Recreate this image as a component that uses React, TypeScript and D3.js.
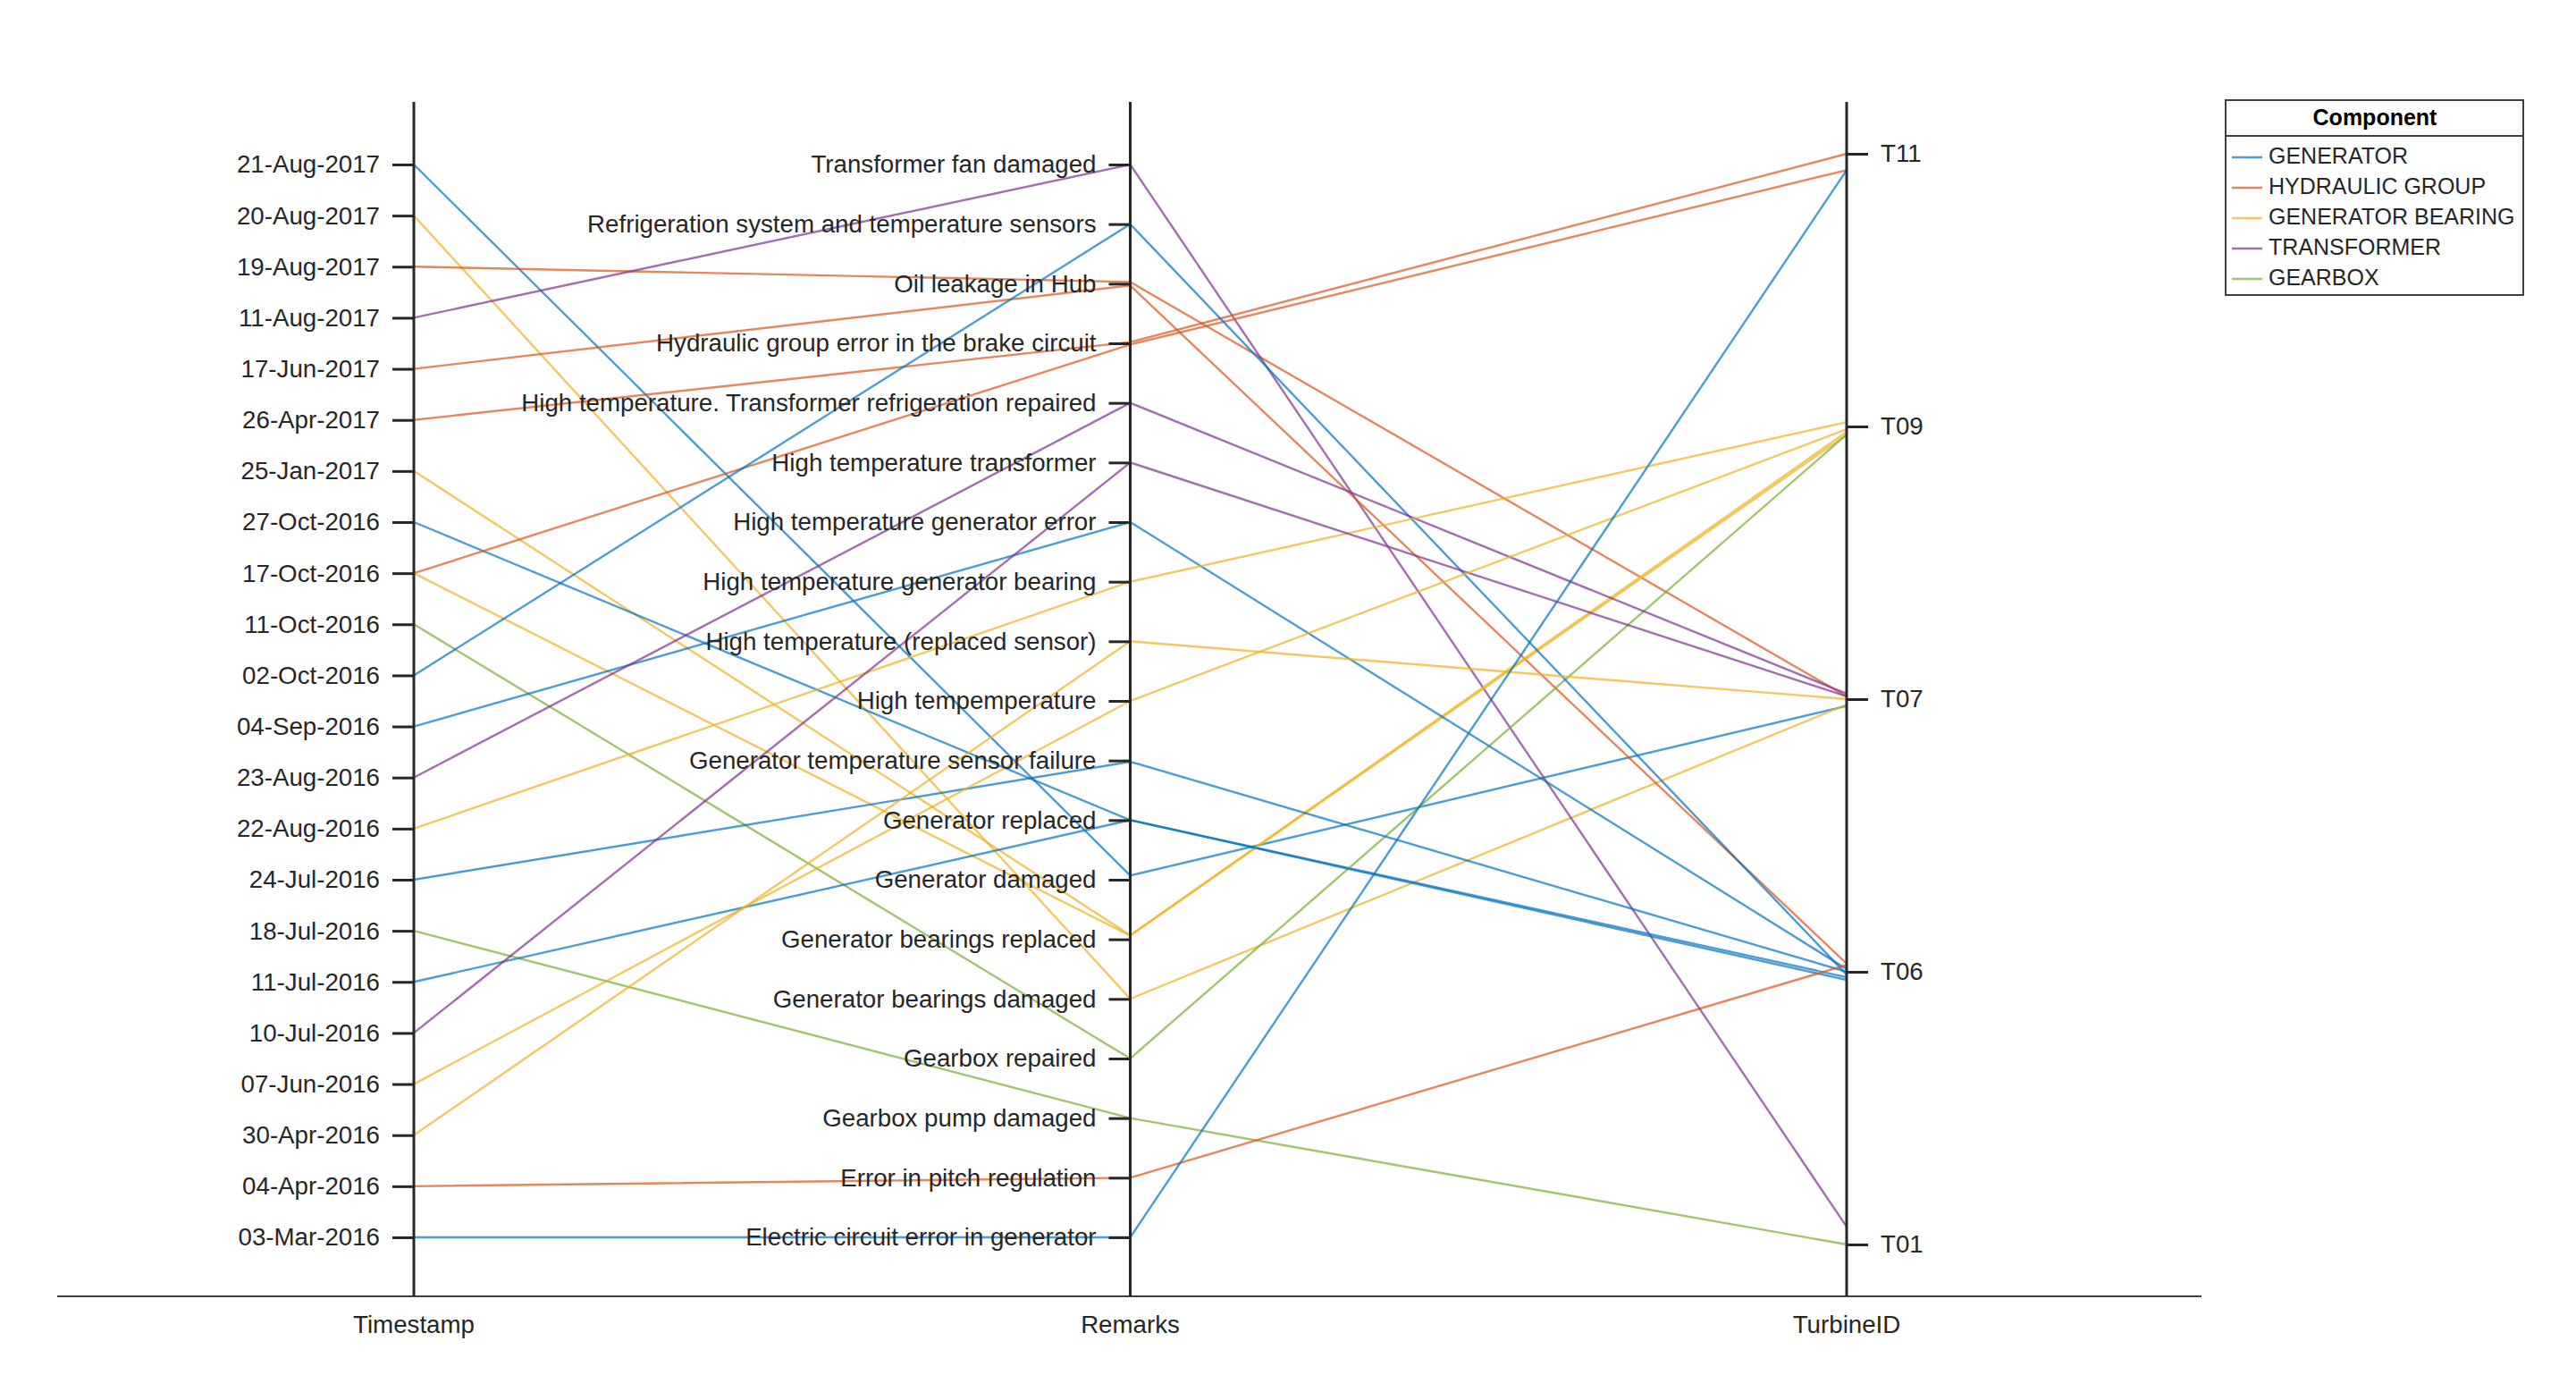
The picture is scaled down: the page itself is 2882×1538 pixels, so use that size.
import { useEffect, useRef } from 'react';
import * as d3 from 'd3';

// tick labels, top to bottom
const timestampTicks = [
  '21-Aug-2017', '20-Aug-2017', '19-Aug-2017', '11-Aug-2017', '17-Jun-2017',
  '26-Apr-2017', '25-Jan-2017', '27-Oct-2016', '17-Oct-2016', '11-Oct-2016',
  '02-Oct-2016', '04-Sep-2016', '23-Aug-2016', '22-Aug-2016', '24-Jul-2016',
  '18-Jul-2016', '11-Jul-2016', '10-Jul-2016', '07-Jun-2016', '30-Apr-2016',
  '04-Apr-2016', '03-Mar-2016',
];

const remarkTicks = [
  'Transformer fan damaged',
  'Refrigeration system and temperature sensors',
  'Oil leakage in Hub',
  'Hydraulic group error in the brake circuit',
  'High temperature. Transformer refrigeration repaired',
  'High temperature transformer',
  'High temperature generator error',
  'High temperature generator bearing',
  'High temperature (replaced sensor)',
  'High tempemperature',
  'Generator temperature sensor failure',
  'Generator replaced',
  'Generator damaged',
  'Generator bearings replaced',
  'Generator bearings damaged',
  'Gearbox repaired',
  'Gearbox pump damaged',
  'Error in pitch regulation',
  'Electric circuit error in generator',
];

const turbineTicks = ['T11', 'T09', 'T07', 'T06', 'T01'];

const components = ['GENERATOR', 'HYDRAULIC GROUP', 'GENERATOR BEARING', 'TRANSFORMER', 'GEARBOX'];
const componentColors = ['#0072BD', '#D95319', '#EDB120', '#7E2F8E', '#77AC30'];

const dimensions = ['Timestamp', 'Remarks', 'TurbineID'];

// one entry per record
const rowTimestamp = [
  '21-Aug-2017', '20-Aug-2017', '19-Aug-2017', '11-Aug-2017', '17-Jun-2017',
  '26-Apr-2017', '25-Jan-2017', '27-Oct-2016', '17-Oct-2016', '17-Oct-2016',
  '11-Oct-2016', '02-Oct-2016', '04-Sep-2016', '23-Aug-2016', '22-Aug-2016',
  '24-Jul-2016', '18-Jul-2016', '11-Jul-2016', '10-Jul-2016', '07-Jun-2016',
  '30-Apr-2016', '04-Apr-2016', '03-Mar-2016',
];
const rowRemark = [
  'Generator damaged', 'Generator bearings damaged', 'Oil leakage in Hub',
  'Transformer fan damaged', 'Oil leakage in Hub',
  'Hydraulic group error in the brake circuit', 'Generator bearings replaced',
  'Generator replaced', 'Hydraulic group error in the brake circuit',
  'Generator bearings replaced', 'Gearbox repaired',
  'Refrigeration system and temperature sensors', 'High temperature generator error',
  'High temperature. Transformer refrigeration repaired', 'High temperature generator bearing',
  'Generator temperature sensor failure', 'Gearbox pump damaged', 'Generator replaced',
  'High temperature transformer', 'High tempemperature', 'High temperature (replaced sensor)',
  'Error in pitch regulation', 'Electric circuit error in generator',
];
const rowTurbine = [
  'T07', 'T07', 'T07', 'T01', 'T06', 'T11', 'T09', 'T06', 'T11', 'T09', 'T09', 'T06',
  'T06', 'T07', 'T09', 'T06', 'T01', 'T06', 'T07', 'T09', 'T07', 'T06', 'T11',
];
const rowComponent = [
  'GENERATOR', 'GENERATOR BEARING', 'HYDRAULIC GROUP', 'TRANSFORMER', 'HYDRAULIC GROUP',
  'HYDRAULIC GROUP', 'GENERATOR BEARING', 'GENERATOR', 'HYDRAULIC GROUP', 'GENERATOR BEARING',
  'GEARBOX', 'GENERATOR', 'GENERATOR', 'TRANSFORMER', 'GENERATOR BEARING', 'GENERATOR',
  'GEARBOX', 'GENERATOR', 'TRANSFORMER', 'GENERATOR BEARING', 'GENERATOR BEARING',
  'HYDRAULIC GROUP', 'GENERATOR',
];
// categorical jitter (fraction of a category step, + = downward)
const remarkJitter = [
  -0.07, 0, -0.03, 0, 0.03, -0.02, -0.07, 0, 0.02, -0.06, 0, 0,
  0, 0, 0, 0.02, 0, 0, 0, 0, 0, 0, 0,
];
const turbineJitter = [
  0.025, 0.02, -0.01, -0.065, -0.03, 0, 0.02, 0.02, 0.06, 0.03, 0.03, 0.01,
  -0.01, -0.02, -0.016, 0, 0, 0.03, -0.01, 0.01, 0, -0.025, 0.06,
];

const W = 2882;
const H = 1538;
const FONT = '"Liberation Sans", Arial, Helvetica, sans-serif';
const TEXT = '#262626';

const App = () => {
  const svgRef = useRef(null);

  useEffect(() => {
    const svg = d3.select(svgRef.current);
    svg.selectAll('*').remove();

    const axisTop = 114;
    const axisBottom = 1450;

    const x = d3.scalePoint().domain(dimensions).range([463, 2066]);
    const yTime = d3.scalePoint().domain(timestampTicks).range([184, 1384]);
    const yRemark = d3.scalePoint().domain(remarkTicks).range([184, 1384]);
    const yTurbine = d3.scalePoint().domain(turbineTicks).range([172, 1392]);
    const color = d3.scaleOrdinal<string, string>().domain(components).range(componentColors);

    const rows = rowTimestamp.map((t, i) => ({
      t,
      r: rowRemark[i],
      id: rowTurbine[i],
      c: rowComponent[i],
      rj: remarkJitter[i],
      tj: turbineJitter[i],
    }));

    // baseline
    svg
      .append('line')
      .attr('x1', 64)
      .attr('x2', 2463)
      .attr('y1', axisBottom)
      .attr('y2', axisBottom)
      .attr('stroke', '#404040')
      .attr('stroke-width', 2);

    // polylines
    const line = d3.line<[number, number]>();
    svg
      .append('g')
      .selectAll('path')
      .data(rows)
      .enter()
      .append('path')
      .attr('d', (d) =>
        line([
          [x('Timestamp')!, yTime(d.t)!],
          [x('Remarks')!, yRemark(d.r)! + d.rj * yRemark.step()],
          [x('TurbineID')!, yTurbine(d.id)! + d.tj * yTurbine.step()],
        ])
      )
      .attr('fill', 'none')
      .attr('stroke', (d) => color(d.c))
      .attr('stroke-opacity', 0.7)
      .attr('stroke-width', 2.4);

    // vertical axes
    const axes: [string, d3.Axis<string>][] = [
      ['Timestamp', d3.axisLeft(yTime)],
      ['Remarks', d3.axisLeft(yRemark)],
      ['TurbineID', d3.axisRight(yTurbine)],
    ];
    axes.forEach(([name, ax]) => {
      const g = svg.append('g').attr('transform', `translate(${x(name)},0)`);
      g.append('line')
        .attr('y1', axisTop)
        .attr('y2', axisBottom)
        .attr('stroke', '#262626')
        .attr('stroke-width', 3);
      g.call(ax.tickSize(24).tickPadding(14) as any);
      g.select('.domain').remove();
      g.selectAll('.tick line').attr('stroke', '#262626').attr('stroke-width', 3);
      g.selectAll('.tick text')
        .attr('fill', TEXT)
        .style('font-size', '27.7px')
        .style('font-family', FONT);
      g.append('text')
        .attr('x', 0)
        .attr('y', 1484)
        .attr('text-anchor', 'middle')
        .attr('dominant-baseline', 'middle')
        .attr('fill', TEXT)
        .style('font-size', '27.7px')
        .style('font-family', FONT)
        .text(name);
    });

    // legend
    const lg = svg.append('g');
    lg.append('rect')
      .attr('x', 2490)
      .attr('y', 112)
      .attr('width', 333)
      .attr('height', 218)
      .attr('fill', 'white')
      .attr('stroke', '#404040')
      .attr('stroke-width', 2);
    lg.append('line')
      .attr('x1', 2490)
      .attr('x2', 2823)
      .attr('y1', 152)
      .attr('y2', 152)
      .attr('stroke', '#404040')
      .attr('stroke-width', 2);
    lg.append('text')
      .attr('x', 2657)
      .attr('y', 133)
      .attr('text-anchor', 'middle')
      .attr('dominant-baseline', 'middle')
      .attr('fill', 'black')
      .style('font-weight', 'bold')
      .style('font-size', '25px')
      .style('font-family', FONT)
      .text('Component');
    const ly = d3.scalePoint().domain(components).range([176, 312]);
    const item = lg
      .selectAll('g.item')
      .data(components)
      .enter()
      .append('g')
      .attr('transform', (d) => `translate(0,${ly(d)})`);
    item
      .append('line')
      .attr('x1', 2497)
      .attr('x2', 2531)
      .attr('stroke', (d) => color(d))
      .attr('stroke-opacity', 0.7)
      .attr('stroke-width', 2.4);
    item
      .append('text')
      .attr('x', 2538)
      .attr('dominant-baseline', 'middle')
      .attr('fill', TEXT)
      .style('font-size', '25px')
      .style('font-family', FONT)
      .text((d) => d);
  }, []);

  return (
    <svg
      ref={svgRef}
      width={W}
      height={H}
      style={{ position: 'absolute', left: 0, top: 0, background: 'white' }}
    ></svg>
  );
};

export default App;
